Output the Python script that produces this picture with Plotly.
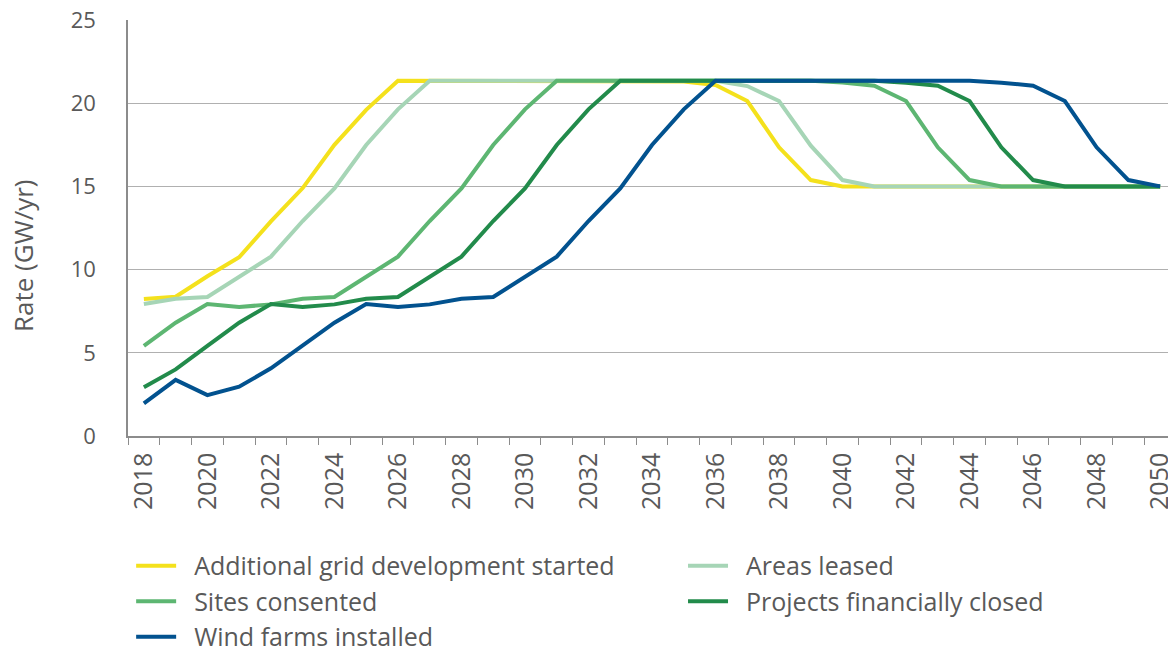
import plotly.graph_objects as go

years = list(range(2018, 2051))

grid_started = [8.23, 8.37, 9.6, 10.74, 12.9, 14.9, 17.5, 19.6, 21.35, 21.35,
                21.35, 21.35, 21.35, 21.35, 21.35, 21.35, 21.35, 21.3, 21.1, 20.13,
                17.35, 15.38, 15.0, 15.0, 15.0, 15.0, 15.0, 15.0, 15.0, 15.0,
                15.0, 15.0, 15.0]
areas_leased = [7.93, 8.25, 8.35, 9.54, 10.78, 12.92, 14.88, 17.49, 19.63, 21.35,
                21.35, 21.35, 21.35, 21.35, 21.35, 21.35, 21.35, 21.35, 21.35, 21.03,
                20.13, 17.45, 15.38, 15.0, 15.0, 15.0, 15.0, 15.0, 15.0, 15.0,
                15.0, 15.0, 15.0]
sites_consented = [5.41, 6.81, 7.93, 7.75, 7.91, 8.25, 8.35, 9.54, 10.78, 12.92,
                   14.88, 17.49, 19.63, 21.35, 21.35, 21.35, 21.35, 21.35, 21.35, 21.35,
                   21.35, 21.35, 21.25, 21.05, 20.13, 17.35, 15.38, 15.0, 15.0, 15.0,
                   15.0, 15.0, 15.0]
fin_closed = [2.93, 4.0, 5.41, 6.81, 7.93, 7.75, 7.91, 8.25, 8.35, 9.54,
              10.78, 12.92, 14.88, 17.49, 19.63, 21.35, 21.35, 21.35, 21.35, 21.35,
              21.35, 21.35, 21.35, 21.35, 21.23, 21.05, 20.13, 17.35, 15.38, 15.0,
              15.0, 15.0, 15.0]
installed = [1.96, 3.37, 2.46, 2.96, 4.07, 5.41, 6.81, 7.93, 7.75, 7.91,
             8.25, 8.35, 9.54, 10.78, 12.92, 14.88, 17.49, 19.63, 21.35, 21.35,
             21.35, 21.35, 21.35, 21.35, 21.35, 21.35, 21.35, 21.23, 21.05, 20.13,
             17.35, 15.38, 15.0]

# name, values, colour, which legend column
series = [
    ("Additional grid development started", grid_started, "#f4e11c", "legend"),
    ("Areas leased", areas_leased, "#a6d5b6", "legend2"),
    ("Sites consented", sites_consented, "#5db672", "legend"),
    ("Projects financially closed", fin_closed, "#228b4b", "legend2"),
    ("Wind farms installed", installed, "#02528f", "legend"),
]

FONT = "Open Sans"
GREY = "#595959"
PAD = "\u00a0\u00a0"  # extra gap between legend line and its text

fig = go.Figure()
for name, vals, col, leg in series:
    fig.add_trace(go.Scatter(x=years, y=vals, name=PAD + name, mode="lines",
                             legend=leg, line=dict(color=col, width=4)))

# page body has an 8px margin, so the figure is 8px smaller each way
leg_common = dict(orientation="v", xref="paper", yref="paper", y=-0.257,
                  xanchor="left", yanchor="top", itemwidth=40, tracegroupgap=0,
                  font=dict(size=25, color=GREY), bgcolor="rgba(0,0,0,0)")
fig.update_layout(
    width=1168, height=642,
    paper_bgcolor="white", plot_bgcolor="white",
    margin=dict(l=120, r=0, t=12, b=214, autoexpand=False),
    font=dict(family=FONT, size=22, color=GREY),
    showlegend=True,
    legend=dict(x=0.003, **leg_common),
    legend2=dict(x=0.5296, **leg_common),
    annotations=[dict(text="Rate (GW/yr)", textangle=-90, xref="paper", yref="paper",
                      x=-0.1002, y=0.435, xanchor="center", yanchor="middle",
                      showarrow=False, font=dict(size=26, color=GREY))],
)
fig.update_xaxes(
    range=[2017.5, 2050.5], tickmode="array", tickvals=years[::2],
    ticktext=[str(y) for y in years[::2]], tickangle=-90, automargin=False,
    ticks="", showgrid=False, showline=True, linecolor="#8c8c8c", linewidth=1.5,
    minor=dict(ticks="outside", tick0=2017.5, dtick=1, ticklen=7,
               tickcolor="#8c8c8c", showgrid=False),
    tickfont=dict(size=25, color=GREY), zeroline=False, ticklabeloverflow="allow",
    ticklabelstandoff=5,
)
fig.update_yaxes(
    range=[0, 25], dtick=5, showgrid=True, gridcolor="#b0b0b0", gridwidth=1,
    showline=True, linecolor="#8c8c8c", linewidth=1.5, zeroline=False,
    ticks="", ticklabelstandoff=26, tickfont=dict(size=22, color=GREY),
    automargin=False, ticklabeloverflow="allow",
)

fig.write_html("out.html")
